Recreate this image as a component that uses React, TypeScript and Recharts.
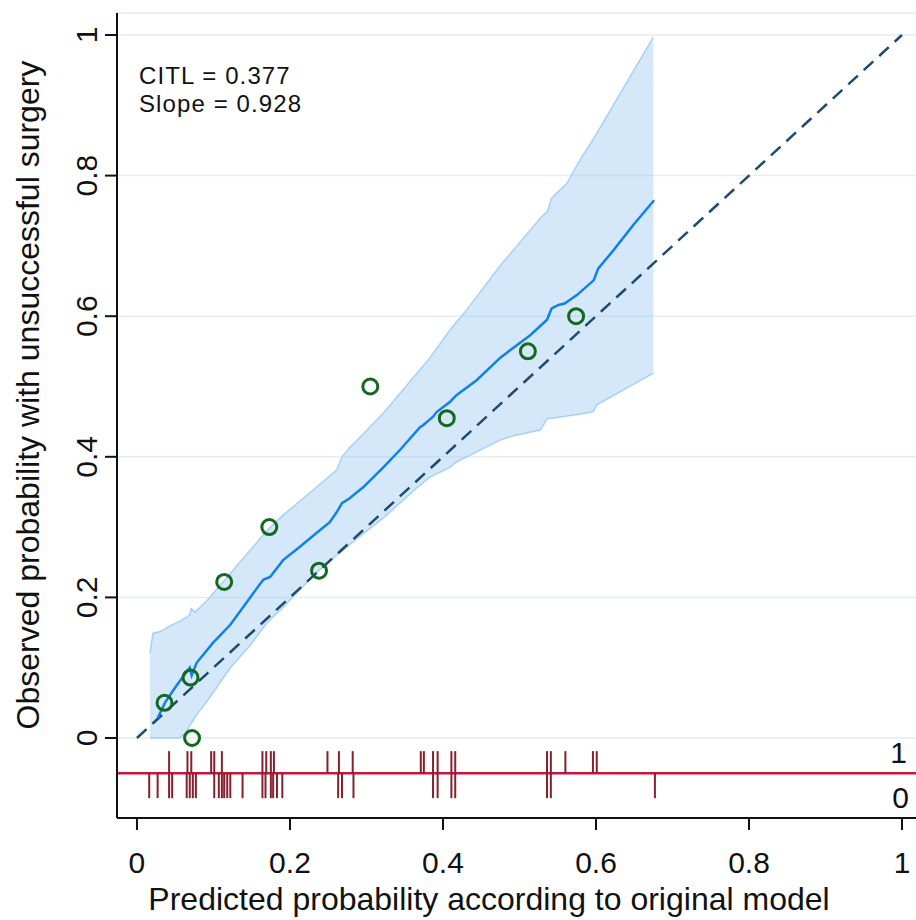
import React from 'react';
import {
  ComposedChart,
  XAxis,
  YAxis,
  CartesianGrid,
  Area,
  Line,
  Scatter,
  ReferenceLine,
} from 'recharts';

// axis ticks
const xTicks = [0, 0.2, 0.4, 0.6, 0.8, 1];
const yTicks = [0, 0.2, 0.4, 0.6, 0.8, 1];

// confidence band of the flexible calibration curve
const bandX = [0.017, 0.021, 0.03, 0.041, 0.046, 0.056, 0.065, 0.069, 0.071, 0.076, 0.092, 0.122, 0.148, 0.17, 0.191, 0.235, 0.261, 0.268, 0.278, 0.288, 0.322, 0.366, 0.383, 0.409, 0.418, 0.431, 0.475, 0.492, 0.527, 0.537, 0.542, 0.562, 0.579, 0.596, 0.601, 0.675];
const bandLo = [0, 0, 0, 0, 0, 0, 0.009, 0.018, 0.021, 0.03, 0.053, 0.1, 0.132, 0.164, 0.186, 0.236, 0.26, 0.266, 0.275, 0.284, 0.313, 0.356, 0.371, 0.385, 0.393, 0.4, 0.424, 0.43, 0.438, 0.455, 0.455, 0.458, 0.461, 0.464, 0.474, 0.519];
const bandHi = [0.121, 0.149, 0.151, 0.158, 0.161, 0.166, 0.172, 0.175, 0.184, 0.179, 0.196, 0.234, 0.267, 0.295, 0.317, 0.357, 0.381, 0.4, 0.413, 0.424, 0.462, 0.519, 0.541, 0.58, 0.592, 0.609, 0.672, 0.694, 0.739, 0.75, 0.768, 0.789, 0.822, 0.851, 0.86, 0.997];

// flexible calibration curve
const curveX = [0.027, 0.037, 0.052, 0.069, 0.0715, 0.078, 0.099, 0.122, 0.148, 0.165, 0.174, 0.191, 0.213, 0.235, 0.252, 0.261, 0.268, 0.278, 0.296, 0.322, 0.344, 0.37, 0.374, 0.387, 0.392, 0.409, 0.418, 0.444, 0.475, 0.492, 0.514, 0.536, 0.542, 0.551, 0.559, 0.575, 0.597, 0.603, 0.623, 0.649, 0.676];
const curveY = [0.028, 0.051, 0.075, 0.1, 0.089, 0.107, 0.135, 0.161, 0.2, 0.225, 0.229, 0.253, 0.272, 0.292, 0.307, 0.321, 0.334, 0.341, 0.357, 0.385, 0.41, 0.442, 0.445, 0.457, 0.464, 0.478, 0.488, 0.509, 0.541, 0.555, 0.573, 0.595, 0.611, 0.616, 0.618, 0.63, 0.651, 0.668, 0.694, 0.73, 0.765];

// grouped observed proportions
const groupX = [0.036, 0.07, 0.072, 0.114, 0.173, 0.238, 0.305, 0.405, 0.511, 0.574];
const groupY = [0.05, 0.086, 0, 0.222, 0.3, 0.238, 0.5, 0.455, 0.55, 0.6];

// rug of predicted probabilities, by outcome
const rugEvents = [0.042, 0.066, 0.071, 0.097, 0.101, 0.111, 0.164, 0.169, 0.175, 0.179, 0.249, 0.264, 0.282, 0.371, 0.375, 0.387, 0.393, 0.411, 0.416, 0.536, 0.541, 0.56, 0.596, 0.601];
const rugNonEvents = [0.016, 0.027, 0.042, 0.046, 0.065, 0.069, 0.073, 0.077, 0.101, 0.107, 0.111, 0.114, 0.118, 0.122, 0.138, 0.164, 0.168, 0.175, 0.178, 0.183, 0.19, 0.263, 0.268, 0.283, 0.387, 0.393, 0.411, 0.416, 0.536, 0.541, 0.677];
const rugLevel = -0.05;

const diagonal = [
  { x: 0, y: 0 },
  { x: 1, y: 1 },
];

const band = bandX.map((x, i) => ({ x, lo: bandLo[i], hi: bandHi[i] }));
const curve = curveX.map((x, i) => ({ x, y: curveY[i] }));
const groups = groupX.map((x, i) => ({ x, y: groupY[i] }));
const rugUp = rugEvents.map((x) => ({ x, y: rugLevel }));
const rugDown = rugNonEvents.map((x) => ({ x, y: rugLevel }));

const FONT = '"Liberation Sans", Arial, sans-serif';

const XTick = (props: any) => {
  const { x, payload } = props;
  return (
    <text x={x} y={873} textAnchor="middle" fontSize={30} fontFamily={FONT} fill="#111">
      {String(payload.value)}
    </text>
  );
};

const YTick = (props: any) => {
  const { y, payload } = props;
  return (
    <text
      x={97}
      y={y}
      transform={`rotate(-90, 97, ${y})`}
      textAnchor="middle"
      fontSize={30}
      fontFamily={FONT}
      fill="#111"
    >
      {String(payload.value)}
    </text>
  );
};

const GroupDot = (props: any) => (
  <circle cx={props.cx} cy={props.cy} r={7.5} fill="none" stroke="#12691f" strokeWidth={3} />
);

const RugUp = (props: any) => (
  <line x1={props.cx} x2={props.cx} y1={props.cy} y2={props.cy - 22} stroke="#86202f" strokeWidth={2} />
);

const RugDown = (props: any) => (
  <line x1={props.cx} x2={props.cx} y1={props.cy} y2={props.cy + 25} stroke="#86202f" strokeWidth={2} />
);

export default function App() {
  return (
    <div style={{ position: 'absolute', left: 0, top: 0, width: 916, height: 920, background: '#fff' }}>
      <ComposedChart width={916} height={920} margin={{ top: 13, right: 0, bottom: 42, left: 57 }}>
        <CartesianGrid vertical={false} stroke="#e3edf2" strokeWidth={1.5} />
        <XAxis
          dataKey="x"
          type="number"
          domain={[-0.0261, 1.0183]}
          allowDataOverflow
          ticks={xTicks}
          height={60}
          tick={<XTick />}
          tickSize={12}
          axisLine={{ stroke: '#111', strokeWidth: 2 }}
          tickLine={{ stroke: '#111', strokeWidth: 2 }}
        />
        <YAxis
          type="number"
          domain={[-0.1138, 1.0313]}
          allowDataOverflow
          ticks={yTicks}
          width={60}
          tick={<YTick />}
          tickSize={12}
          axisLine={{ stroke: '#111', strokeWidth: 2 }}
          tickLine={{ stroke: '#111', strokeWidth: 2 }}
        />
        <Area
          data={band}
          dataKey={(d: any) => [d.lo, d.hi]}
          type="linear"
          fill="#9fcbf5"
          fillOpacity={0.45}
          stroke="#a6d0f7"
          strokeWidth={1.5}
          isAnimationActive={false}
        />
        <ReferenceLine y={rugLevel} stroke="#c8163a" strokeWidth={2.5} />
        <Scatter data={rugUp} dataKey="y" shape={<RugUp />} isAnimationActive={false} />
        <Scatter data={rugDown} dataKey="y" shape={<RugDown />} isAnimationActive={false} />
        <Line
          data={diagonal}
          dataKey="y"
          type="linear"
          stroke="#1f4a70"
          strokeWidth={2.5}
          strokeDasharray="13 8"
          dot={false}
          isAnimationActive={false}
        />
        <Line
          data={curve}
          dataKey="y"
          type="linear"
          stroke="#0f80ec"
          strokeWidth={2.5}
          dot={false}
          isAnimationActive={false}
        />
        <Scatter data={groups} dataKey="y" shape={<GroupDot />} isAnimationActive={false} />
      </ComposedChart>
      <svg
        width={916}
        height={920}
        style={{ position: 'absolute', left: 0, top: 0, pointerEvents: 'none' }}
        fontFamily={FONT}
      >
        <text x={139} y={84} fontSize={24} letterSpacing={1.1} fill="#111">CITL = 0.377</text>
        <text x={139} y={112} fontSize={24} letterSpacing={1.1} fill="#111">Slope = 0.928</text>
        <text x={907} y={763} fontSize={30} textAnchor="end" fill="#111">1</text>
        <text x={909} y={808} fontSize={30} textAnchor="end" fill="#111">0</text>
        <text x={489} y={910} fontSize={32} textAnchor="middle" fill="#111">
          Predicted probability according to original model
        </text>
        <text x={39} y={395} fontSize={32} textAnchor="middle" transform="rotate(-90, 39, 395)" fill="#111">
          Observed probability with unsuccessful surgery
        </text>
      </svg>
    </div>
  );
}
